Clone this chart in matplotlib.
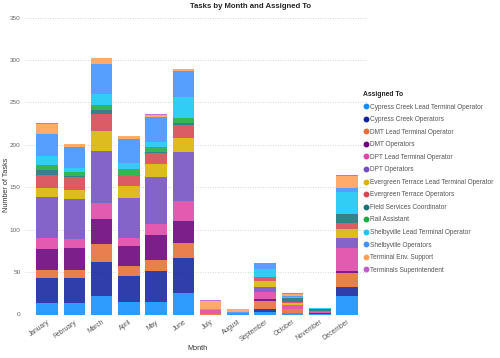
import matplotlib
matplotlib.use("Agg")
import matplotlib.pyplot as plt
from matplotlib.lines import Line2D
import numpy as np

months = ["January", "February", "March", "April", "May", "June", "July",
          "August", "September", "October", "November", "December"]

series_names = [
    "Cypress Creek Lead Terminal Operator",
    "Cypress Creek Operators",
    "DMT Lead Terminal Operator",
    "DMT Operators",
    "DPT Lead Terminal Operator",
    "DPT Operators",
    "Evergreen Terrace Lead Terminal Operator",
    "Evergreen Terrace Operators",
    "Field Services Coordinator",
    "Rail Assistant",
    "Shelbyville Lead Terminal Operator",
    "Shelbyville Operators",
    "Terminal Env. Support",
    "Terminals Superintendent",
]

cc_lead      = [14, 14, 22, 15, 15, 25, 0, 2, 3, 2, 1, 22]
cc_ops       = [29, 29, 40, 30, 36, 42, 0, 0, 4, 0, 0, 11]
dmt_lead     = [10, 10, 21, 12, 13, 17, 1, 0, 9, 4, 0, 16]
dmt_ops      = [24, 26, 30, 24, 30, 26, 0, 0, 2, 0, 1, 2]
dpt_lead     = [13, 10, 18, 9, 13, 24, 4, 0, 9, 5, 2, 27]
dpt_ops      = [48, 47, 62, 47, 55, 58, 0, 0, 6, 0, 0, 12]
eg_lead      = [11, 11, 23, 14, 15, 16, 0, 0, 6, 3, 0, 11]
eg_ops       = [15, 15, 21, 13, 14, 16, 0, 0, 5, 1, 0, 7]
field_serv   = [6, 1, 4, 1, 1, 2, 0, 0, 0, 4, 3, 11]
rail_asst    = [6, 5, 6, 6, 6, 6, 0, 0, 0, 1, 0, 0]
shelby_lead  = [11, 5, 13, 8, 6, 24, 1, 0, 10, 1, 1, 25]
shelby_ops   = [26, 25, 35, 28, 29, 31, 0, 1, 7, 1, 0, 5]
term_env     = [12, 3, 7, 4, 2, 2, 10, 4, 0, 2, 0, 14]
term_supt    = [1, 0, 0, 0, 1, 0, 1, 0, 0, 1, 0, 2]

all_series = [cc_lead, cc_ops, dmt_lead, dmt_ops, dpt_lead, dpt_ops, eg_lead,
              eg_ops, field_serv, rail_asst, shelby_lead, shelby_ops,
              term_env, term_supt]

colors = ["#118DFF", "#12239E", "#E66C37", "#6B007B", "#E044A7", "#744EC2",
          "#D9B300", "#D64550", "#197278", "#1AAB40", "#15C6F4", "#4092FF",
          "#FFA058", "#BE5DC9"]

plt.rcParams['font.family'] = ['Liberation Sans', 'DejaVu Sans']

W, H = 500, 358
fig = plt.figure(figsize=(W / 100, H / 100), dpi=100)
ax = fig.add_axes([25 / W, 1 - 314.5 / H, 342 / W, (314.5 - 17.7) / H])

x = np.arange(len(months))
bottom = np.zeros(len(months))
for name, vals, c in zip(series_names, all_series, colors):
    v = np.array(vals, dtype=float)
    ax.bar(x, v, bottom=bottom, width=0.79, color=c, alpha=0.88,
           edgecolor='none', label=name, zorder=3)
    bottom += v

ax.set_ylim(0, 350)
ax.set_xlim(-0.807, 11.733)
ax.set_yticks(range(0, 351, 50))
ax.yaxis.grid(True, linestyle=(0, (1, 2)), color='#c8c8c8', linewidth=0.6, zorder=0)
for s in ax.spines.values():
    s.set_visible(False)
ax.tick_params(axis='both', length=0, labelsize=4.6, labelcolor='#666666')
ax.tick_params(axis='y', pad=3)
ax.set_xticks(x)
ax.set_xticklabels(months, rotation=35, ha='right', va='top',
                   rotation_mode='anchor', fontsize=4.8, color='#555555')
ax.tick_params(axis='x', pad=3)

fig.text(7 / W, 1 - 185 / H, "Number of Tasks", rotation=90, ha='center',
         va='center', fontsize=5.2, color='#333333')
fig.text(197 / W, 1 - 348 / H, "Month", ha='center', va='center',
         fontsize=5.2, color='#333333')

fig.text(250 / W, 1 - 7 / H, "Tasks by Month and Assigned To",
         ha='center', va='center', fontsize=5.6, fontweight='bold', color='#252423')

handles = [Line2D([0], [0], marker='o', linestyle='none', markersize=3.2,
                  markerfacecolor=c, markeredgecolor=c) for c in colors]
leg = fig.legend(handles, series_names, loc='upper left',
                 bbox_to_anchor=(363 / W, 1 - 91 / H), frameon=False,
                 title="Assigned To", fontsize=4.7, title_fontsize=4.9,
                 handletextpad=0.1, labelspacing=0.85, handlelength=1.0,
                 borderaxespad=0, borderpad=0)
leg._legend_box.align = "left"
leg.get_title().set_fontweight('bold')
leg.get_title().set_color('#252423')
for t in leg.get_texts():
    t.set_color('#555555')

fig.savefig("out.png", dpi=100)
